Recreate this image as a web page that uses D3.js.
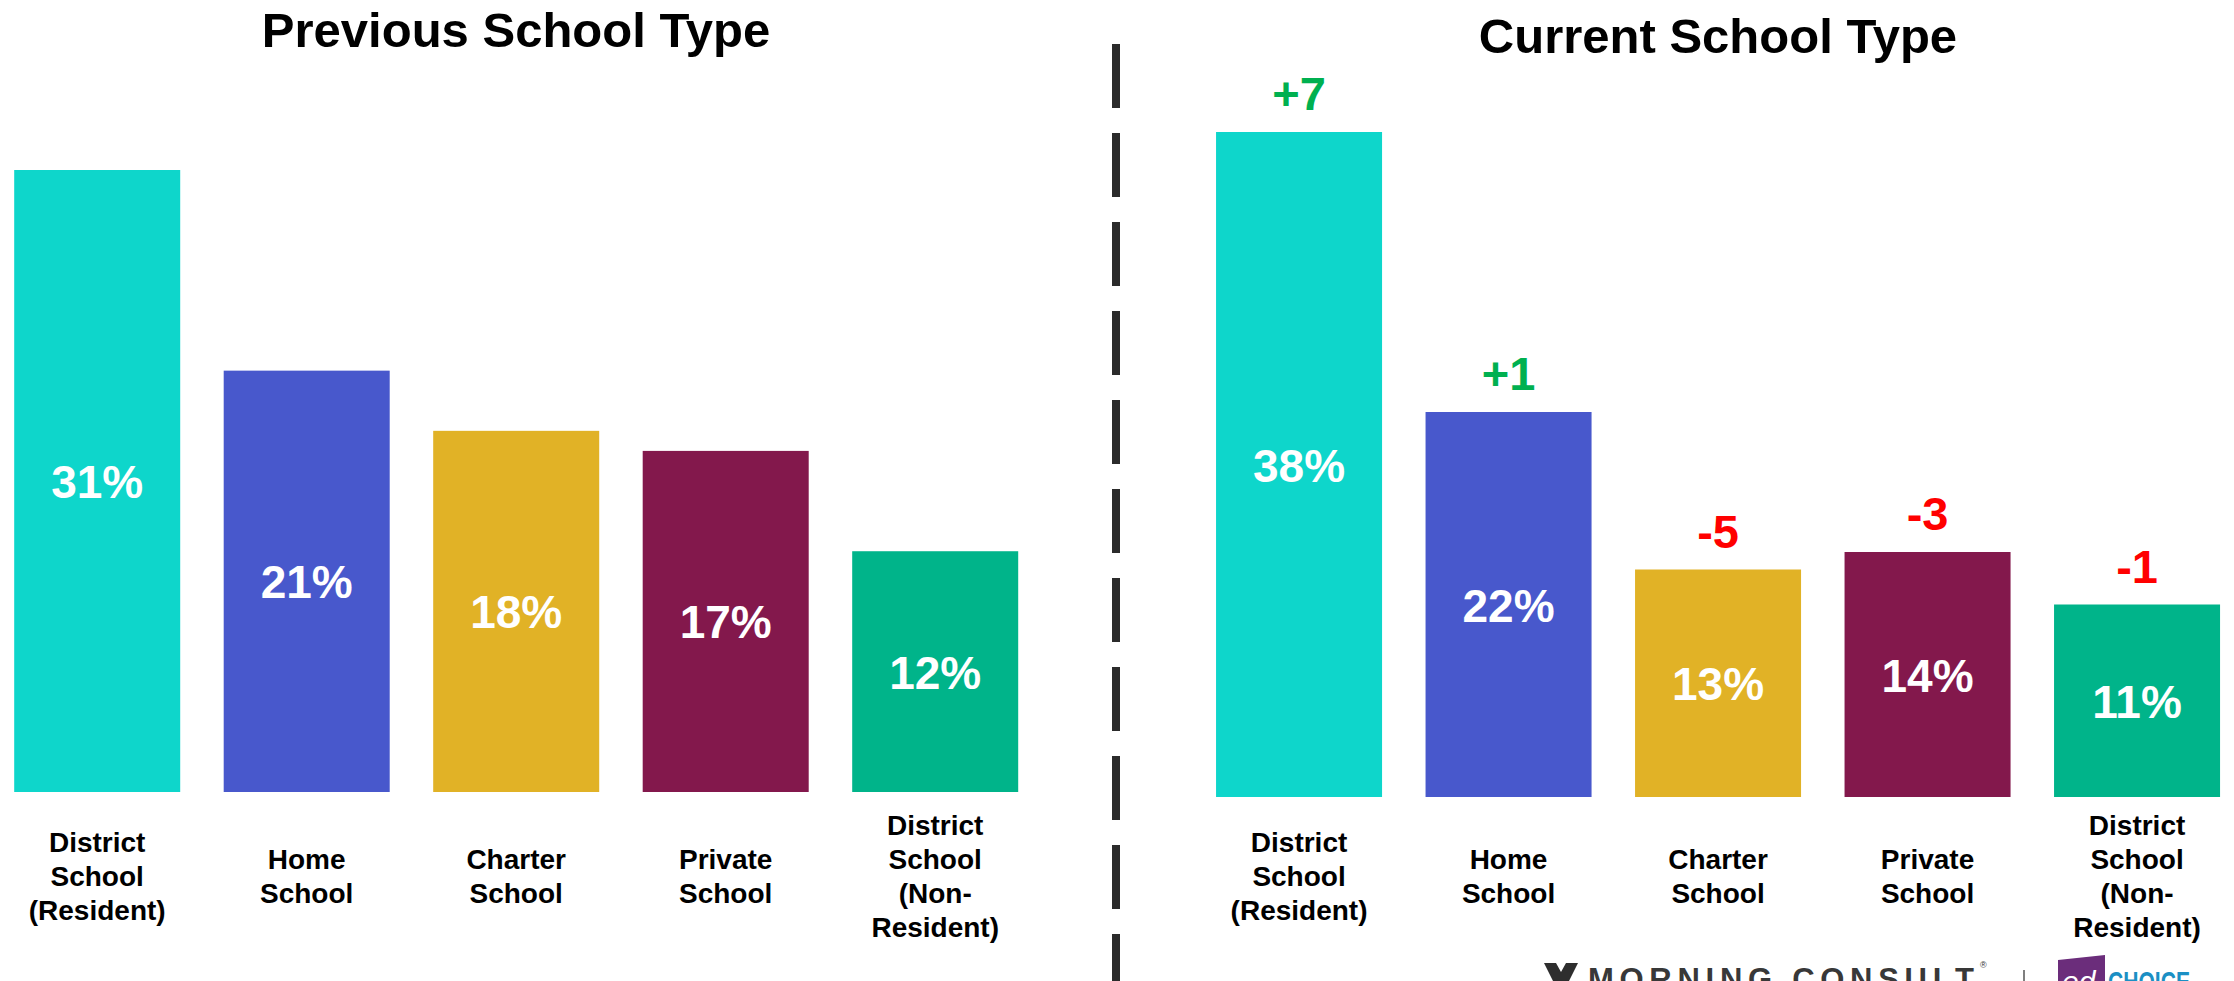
<!DOCTYPE html>
<html>
<head>
<meta charset="utf-8">
<script src="https://cdn.jsdelivr.net/npm/d3@7"></script>
<style>
  html, body { margin: 0; padding: 0; background: #ffffff; }
  svg { display: block; font-family: "Liberation Sans", Arial, sans-serif; }
</style>
</head>
<body>
<svg id="chart" width="2234" height="981"></svg>
<script>
// ---------- data ----------
const categories = [
  "District\nSchool\n(Resident)",
  "Home\nSchool",
  "Charter\nSchool",
  "Private\nSchool",
  "District\nSchool\n(Non-\nResident)"
];
const previousValues = [31, 21, 18, 17, 12];
const currentValues  = [38, 22, 13, 14, 11];
const changeLabels   = ["+7", "+1", "-5", "-3", "-1"];
const barColors      = ["#0ed6cb", "#4858cc", "#e1b226", "#83184c", "#00b48a"];
const panelTitles    = ["Previous School Type", "Current School Type"];

// ---------- drawing ----------
const svg = d3.select("#chart");

function drawPanel(opts) {
  const g = svg.append("g");
  const x = d3.scaleBand()
    .domain(categories)
    .range(opts.xRange)
    .paddingInner(0.2076)
    .paddingOuter(0.1038);
  const y = d3.scaleLinear()
    .domain([0, d3.max(opts.values)])
    .range([opts.base, opts.top]);

  // title
  g.append("text")
    .attr("x", opts.titleX)
    .attr("y", opts.titleY)
    .attr("text-anchor", "middle")
    .attr("font-size", 49)
    .attr("font-weight", "bold")
    .attr("fill", "#000")
    .text(opts.title);

  // bars
  g.selectAll("rect.bar")
    .data(opts.values)
    .join("rect")
    .attr("class", "bar")
    .attr("x", (d, i) => x(categories[i]))
    .attr("y", d => y(d))
    .attr("width", x.bandwidth())
    .attr("height", d => y(0) - y(d))
    .attr("fill", (d, i) => barColors[i]);

  // value labels
  g.selectAll("text.val")
    .data(opts.values)
    .join("text")
    .attr("class", "val")
    .attr("x", (d, i) => x(categories[i]) + x.bandwidth() / 2)
    .attr("y", d => (y(d) + y(0)) / 2 + 17)
    .attr("text-anchor", "middle")
    .attr("font-size", 46)
    .attr("font-weight", "bold")
    .attr("fill", "#ffffff")
    .text(d => d + "%");

  // change labels
  if (opts.changes) {
    g.selectAll("text.chg")
      .data(opts.values)
      .join("text")
      .attr("class", "chg")
      .attr("x", (d, i) => x(categories[i]) + x.bandwidth() / 2)
      .attr("y", d => y(d) - 22)
      .attr("text-anchor", "middle")
      .attr("font-size", 47)
      .attr("font-weight", "bold")
      .attr("fill", (d, i) => opts.changes[i].startsWith("-") ? "#ff0000" : "#00b050")
      .text((d, i) => opts.changes[i]);
  }

  // category labels
  const lineH = 34;
  const midBase = 886;
  categories.forEach((c, i) => {
    const lines = c.split("\n");
    const t = g.append("text")
      .attr("text-anchor", "middle")
      .attr("font-size", 28)
      .attr("font-weight", "bold")
      .attr("fill", "#000");
    const cx = x(c) + x.bandwidth() / 2;
    lines.forEach((ln, k) => {
      t.append("tspan")
        .attr("x", cx)
        .attr("y", midBase + (k - (lines.length - 1) / 2) * lineH)
        .text(ln);
    });
  });
}

drawPanel({
  values: previousValues,
  xRange: [-7.55, 1039.95],
  base: 792, top: 170,
  title: panelTitles[0], titleX: 516, titleY: 47
});
drawPanel({
  values: currentValues,
  changes: changeLabels,
  xRange: [1194.3, 2241.8],
  base: 797, top: 132,
  title: panelTitles[1], titleX: 1718, titleY: 53
});

// dashed divider
svg.append("line")
  .attr("x1", 1116).attr("x2", 1116)
  .attr("y1", 44).attr("y2", 981)
  .attr("stroke", "#2b2b2b")
  .attr("stroke-width", 8)
  .attr("stroke-dasharray", "64 25");

// ---------- logos (bottom right, cut off by the frame) ----------
const logo = svg.append("g");
// Morning Consult mark
logo.append("path")
  .attr("d", "M1544,963 L1556,963 L1561,972 L1566,963 L1578,963 L1569,981 L1553,981 Z")
  .attr("fill", "#2e2e2e");
logo.append("text")
  .attr("x", 1588).attr("y", 990)
  .attr("font-size", 31)
  .attr("font-weight", "bold")
  .attr("textLength", 386)
  .attr("lengthAdjust", "spacing")
  .attr("fill", "#383838")
  .text("MORNING CONSULT");
logo.append("text")
  .attr("x", 1980).attr("y", 968)
  .attr("font-size", 9)
  .attr("fill", "#333333")
  .text("®");
logo.append("line")
  .attr("x1", 2024).attr("x2", 2024)
  .attr("y1", 970).attr("y2", 981)
  .attr("stroke", "#555").attr("stroke-width", 1.5);
// EdChoice
logo.append("path")
  .attr("d", "M2058,960 L2105,955 L2105,981 L2058,981 Z")
  .attr("fill", "#6b2d7b");
logo.append("text")
  .attr("x", 2062).attr("y", 992)
  .attr("font-size", 30)
  .attr("font-style", "italic")
  .attr("fill", "#ffffff")
  .text("ed");
logo.append("text")
  .attr("x", 2108).attr("y", 992)
  .attr("font-size", 30)
  .attr("font-weight", "bold")
  .attr("textLength", 82)
  .attr("lengthAdjust", "spacingAndGlyphs")
  .attr("fill", "#1b8fc4")
  .text("CHOICE");
</script>
</body>
</html>
